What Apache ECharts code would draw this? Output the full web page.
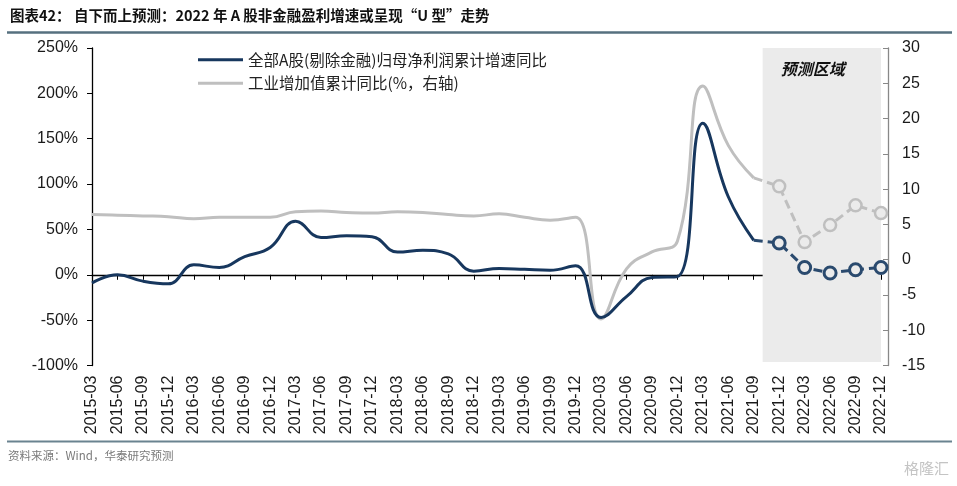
<!DOCTYPE html>
<html><head><meta charset="utf-8">
<script src="https://cdn.jsdelivr.net/npm/echarts@6/dist/echarts.min.js"></script>
<style>html,body{margin:0;padding:0;background:#fff}#c{width:957px;height:486px}</style>
</head><body><div id="c"></div>
<script>
const categories = ['2015-03','2015-06','2015-09','2015-12','2016-03','2016-06','2016-09','2016-12',
  '2017-03','2017-06','2017-09','2017-12','2018-03','2018-06','2018-09','2018-12',
  '2019-03','2019-06','2019-09','2019-12','2020-03','2020-06','2020-09','2020-12',
  '2021-03','2021-06','2021-09','2021-12','2022-03','2022-06','2022-09','2022-12'];
// 全部A股(剔除金融)归母净利润累计增速同比 (%), actual 2015-03 .. 2021-09
const profitActual = [-9,0,-7,-10, 11,8,20,30, 59,41,43,42, 25,27,23,4, 7,6,5,10, -47,-24,-3,-2, 167,86,38];
// forecast 2021-12 .. 2022-12
const profitForecast = [35,8,2,5.5,8];
// 工业增加值累计同比 (%, right axis), actual 2015-03 .. 2021-09
const industryActual = [6.4,6.3,6.2,6.1, 5.8,6.0,6.0,6.0, 6.8,6.9,6.7,6.6, 6.8,6.7,6.4,6.2, 6.5,6.0,5.6,6.0, -8.4,-1.3,1.1,2.6, 24.6,16.2,11.6];
const industryForecast = [10.4,2.5,4.9,7.7,6.6];
const leftTicks = {min:-100, max:250, interval:50};
const rightTicks = {min:-15, max:30, interval:5};
const forecastLabel = '预测区域';
const nameProfit = '全部A股(剔除金融)归母净利润累计增速同比';
const nameIndustry = '工业增加值累计同比(%，右轴)';

const split = profitActual.length - 1;
function solid(arr){ return categories.map((c,i)=> i < arr.length ? arr[i] : null); }
function dashed(act, fc){ return categories.map((c,i)=> i < split ? null : (i===split ? {value: act[split], symbol:'none'} : fc[i-split-1])); }

const NAVY = '#17375e', GRAY = '#bfbfbf', BOX = '#ebebeb';
const CJK = '"Noto Sans CJK SC", "Noto Sans", sans-serif';
const LAT = '"Liberation Sans", Arial, sans-serif';

const chart = echarts.init(document.getElementById('c'));
chart.setOption({
  animation: false,
  backgroundColor: '#fff',
  grid: {left: 92, right: 76, top: 48, bottom: 120.5, containLabel: false, outerBoundsMode: 'none'},
  legend: {
    data: [nameProfit, nameIndustry], orient: 'vertical', left: 193, top: 47,
    icon: 'rect', itemWidth: 45, itemHeight: 3, itemGap: 8,
    textStyle: {fontSize: 15.5, color: '#222', fontFamily: CJK}
  },
  xAxis: [
    {type: 'category', data: categories, boundaryGap: false,
     axisLine: {onZero: true, onZeroAxisIndex: 0, lineStyle: {color: '#000', width: 1.3}},
     axisTick: {show: true, interval: 0, length: 5, lineStyle: {color: '#000'}},
     axisLabel: {show: false}, splitLine: {show: false}},
    {type: 'category', data: categories, boundaryGap: false, position: 'bottom',
     axisLine: {show: false, onZero: false}, axisTick: {show: false},
     axisLabel: {interval: 0, rotate: 90, margin: 10, fontSize: 16, color: '#1a1a1a', fontFamily: LAT},
     splitLine: {show: false}},
    {type: 'value', min: 0, max: categories.length - 1, show: false}
  ],
  yAxis: [
    {type: 'value', position: 'left', min: leftTicks.min, max: leftTicks.max, interval: leftTicks.interval,
     axisLine: {show: true, lineStyle: {color: '#000', width: 1.3}},
     axisTick: {show: true, length: 5, lineStyle: {color: '#000'}},
     axisLabel: {formatter: '{value}%', fontSize: 16, margin: 14, color: '#1a1a1a', fontFamily: LAT},
     splitLine: {show: false}},
    {type: 'value', position: 'right', offset: 7, min: rightTicks.min, max: rightTicks.max, interval: rightTicks.interval,
     axisLine: {show: true, lineStyle: {color: '#888', width: 1.3}},
     axisTick: {show: true, inside: true, length: 5, lineStyle: {color: '#888'}},
     axisLabel: {fontSize: 16, margin: 14, color: '#1a1a1a', fontFamily: LAT},
     splitLine: {show: false}}
  ],
  series: [
    {type: 'line', name: 'area', xAxisIndex: 2, yAxisIndex: 1, data: [[0, null]], symbol: 'none', silent: true, clip: false,
     markArea: {silent: true, itemStyle: {color: BOX},
       label: {show: true, position: 'insideTop', offset: [-9, 8], fontSize: 16, fontWeight: 'bold', fontStyle: 'italic', color: '#111', fontFamily: CJK},
       data: [[{name: forecastLabel, xAxis: 26.35, yAxis: 30.7}, {xAxis: 31.13, yAxis: -14.5}]]}},
    {type: 'line', name: nameIndustry, xAxisIndex: 0, yAxisIndex: 1, data: solid(industryActual), color: GRAY,
     smooth: 0.45, symbol: 'none', lineStyle: {color: GRAY, width: 3}, z: 3},
    {type: 'line', name: 'industryFc', xAxisIndex: 0, yAxisIndex: 1, data: dashed(industryActual, industryForecast),
     symbol: 'circle', symbolSize: 12, connectNulls: false,
     itemStyle: {color: BOX, borderColor: GRAY, borderWidth: 2.5},
     lineStyle: {color: GRAY, width: 3, type: [9, 5]}, z: 3},
    {type: 'line', name: nameProfit, xAxisIndex: 0, yAxisIndex: 0, data: solid(profitActual), color: NAVY,
     smooth: 0.45, symbol: 'none', lineStyle: {color: NAVY, width: 3}, z: 4},
    {type: 'line', name: 'profitFc', xAxisIndex: 0, yAxisIndex: 0, data: dashed(profitActual, profitForecast),
     symbol: 'circle', symbolSize: 12,
     itemStyle: {color: BOX, borderColor: '#2a4a6e', borderWidth: 3},
     lineStyle: {color: '#2a4a6e', width: 3, type: [9, 5]}, z: 4}
  ],
  graphic: [
    {type: 'text', left: 10, top: 8, style: {text: '图表42： 自下而上预测：2022 年 A 股非金融盈利增速或呈现“U 型”走势', fontSize: 14.5, fontWeight: 'bold', fill: '#111', fontFamily: CJK}},
    {type: 'line', shape: {x1: 7, y1: 32.5, x2: 952, y2: 32.5}, style: {stroke: '#56707f', lineWidth: 2.5}},
    {type: 'line', shape: {x1: 7, y1: 441.5, x2: 952, y2: 441.5}, style: {stroke: '#6a8390', lineWidth: 2}},
    {type: 'text', left: 8, top: 450, style: {text: '资料来源：Wind，华泰研究预测', fontSize: 11.5, fill: '#7a7a7a', fontFamily: CJK}},
    {type: 'text', right: 8, top: 461, style: {text: '格隆汇', fontSize: 15, fill: '#c4c4c4', fontFamily: CJK}}
  ]
});
</script></body></html>
